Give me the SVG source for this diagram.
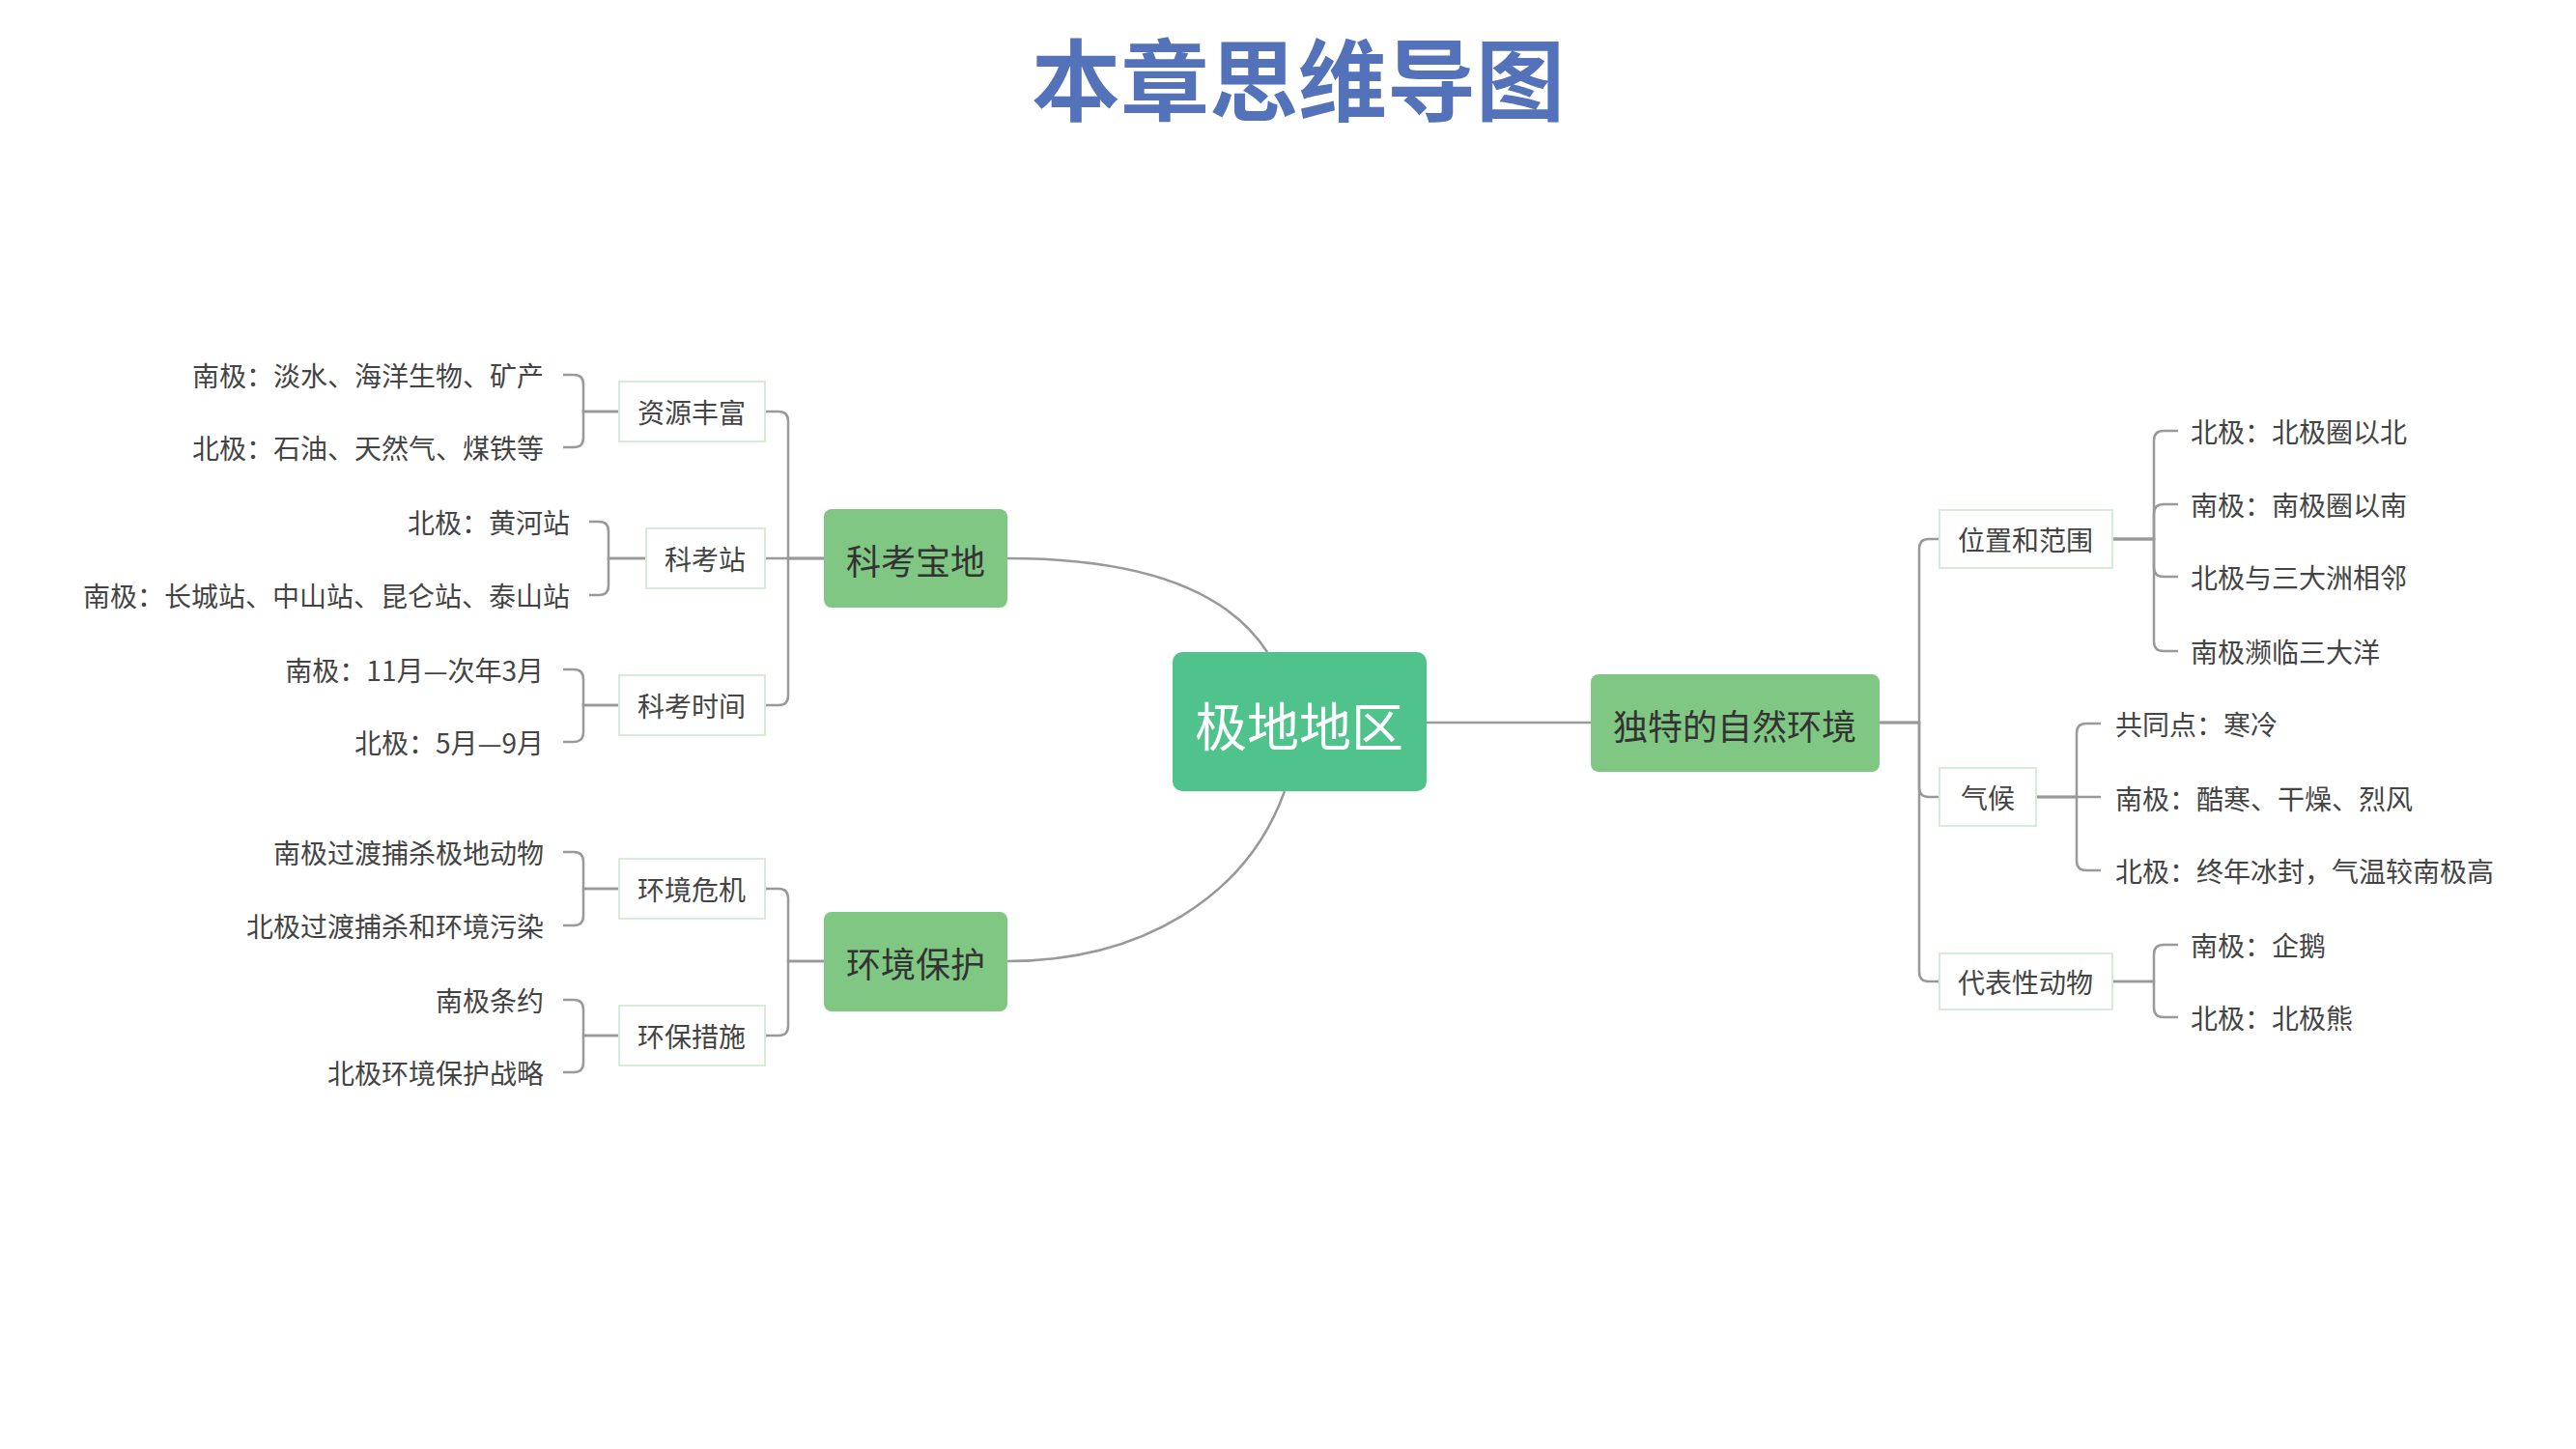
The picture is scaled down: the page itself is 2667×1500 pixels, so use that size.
<svg xmlns="http://www.w3.org/2000/svg" width="2667" height="1500" viewBox="0 0 2667 1500">
<style>
text{font-family:"Noto Sans CJK SC","Noto Sans",sans-serif;dominant-baseline:central}
.t{font-size:92px;font-weight:bold;fill:#5472b9;text-anchor:middle}
.c{fill:#50c28c}
.m{fill:#80c784}
.sub{fill:#fff;stroke:#d6ecd6;stroke-width:2}
.ct{font-size:54px;fill:#fff;text-anchor:middle}
.mt{font-size:36px;fill:#333;text-anchor:middle}
.st{font-size:28px;fill:#444;text-anchor:middle}
.l{font-size:28px;fill:#444}
.r{text-anchor:end}
#connectors path{fill:none;stroke:#999;stroke-width:2.5}
</style>
<text class="t" x="1344" y="77">本章思维导图</text>
<g id="connectors">
<path d="M1043,578 C1180,578 1270,610 1312,675"/>
<path d="M1043,995 C1180,995 1290,930 1330,819"/>
<path d="M1477,748 H1647"/>
<path d="M853,578 H816 V436 Q816,426 806,426 H792"/>
<path d="M853,578 H792"/>
<path d="M853,578 H816 V720 Q816,730 806,730 H792"/>
<path d="M853,995 H816 V930 Q816,920 806,920 H792"/>
<path d="M853,995 H816 V1062 Q816,1072 806,1072 H792"/>
<path d="M641,426 H604 V398 Q604,388 594,388 H583"/>
<path d="M641,426 H604 V453 Q604,463 594,463 H583"/>
<path d="M669,578 H630 V550 Q630,540 620,540 H610"/>
<path d="M669,578 H630 V606 Q630,616 620,616 H610"/>
<path d="M641,730 H604 V703 Q604,693 594,693 H583"/>
<path d="M641,730 H604 V758 Q604,768 594,768 H583"/>
<path d="M641,920 H604 V892 Q604,882 594,882 H583"/>
<path d="M641,920 H604 V948 Q604,958 594,958 H583"/>
<path d="M641,1072 H604 V1045 Q604,1035 594,1035 H583"/>
<path d="M641,1072 H604 V1100 Q604,1110 594,1110 H583"/>
<path d="M1946,748 H1987 V568 Q1987,558 1997,558 H2008"/>
<path d="M1946,748 H1987 V815 Q1987,825 1997,825 H2008"/>
<path d="M1946,748 H1987 V1006 Q1987,1016 1997,1016 H2008"/>
<path d="M2187,558 H2230 V456 Q2230,446 2240,446 H2255"/>
<path d="M2187,558 H2230 V532 Q2230,522 2240,522 H2255"/>
<path d="M2187,558 H2230 V587 Q2230,597 2240,597 H2255"/>
<path d="M2187,558 H2230 V664 Q2230,674 2240,674 H2255"/>
<path d="M2108,825 H2150 V759 Q2150,749 2160,749 H2175"/>
<path d="M2108,825 H2175"/>
<path d="M2108,825 H2150 V891 Q2150,901 2160,901 H2175"/>
<path d="M2187,1016 H2230 V988 Q2230,978 2240,978 H2255"/>
<path d="M2187,1016 H2230 V1043 Q2230,1053 2240,1053 H2255"/>
</g>
<g id="center"><rect class="c" x="1214" y="675" width="263" height="144" rx="10"/><text class="ct" x="1345" y="749">极地地区</text></g>
<g id="kkbd"><rect class="m" x="853" y="527" width="190" height="102" rx="8"/><text class="mt" x="948" y="579">科考宝地</text></g>
<g id="hjbh"><rect class="m" x="853" y="944" width="190" height="103" rx="8"/><text class="mt" x="948" y="996">环境保护</text></g>
<g id="dtzr"><rect class="m" x="1647" y="698" width="299" height="101" rx="8"/><text class="mt" x="1796" y="750">独特的自然环境</text></g>
<g id="zyff"><rect class="sub" x="641" y="395" width="151" height="62"/><text class="st" x="716" y="426">资源丰富</text></g>
<g id="kkz"><rect class="sub" x="669" y="547" width="123" height="62"/><text class="st" x="730" y="578">科考站</text></g>
<g id="kksj"><rect class="sub" x="641" y="699" width="151" height="62"/><text class="st" x="716" y="730">科考时间</text></g>
<g id="hjwj"><rect class="sub" x="641" y="889" width="151" height="62"/><text class="st" x="716" y="920">环境危机</text></g>
<g id="hbcs"><rect class="sub" x="641" y="1041" width="151" height="62"/><text class="st" x="716" y="1072">环保措施</text></g>
<g id="wzfw"><rect class="sub" x="2008" y="528" width="179" height="60"/><text class="st" x="2097" y="558">位置和范围</text></g>
<g id="qh"><rect class="sub" x="2008" y="795" width="100" height="60"/><text class="st" x="2058" y="825">气候</text></g>
<g id="dbxdw"><rect class="sub" x="2008" y="987" width="179" height="58"/><text class="st" x="2097" y="1016">代表性动物</text></g>
<g id="leaves">
<text class="l r" x="563" y="388">南极：淡水、海洋生物、矿产</text>
<text class="l r" x="563" y="463">北极：石油、天然气、煤铁等</text>
<text class="l r" x="590" y="540">北极：黄河站</text>
<text class="l r" x="590" y="616">南极：长城站、中山站、昆仑站、泰山站</text>
<text class="l r" x="563" y="693">南极：11月—次年3月</text>
<text class="l r" x="563" y="768">北极：5月—9月</text>
<text class="l r" x="563" y="882">南极过渡捕杀极地动物</text>
<text class="l r" x="563" y="958">北极过渡捕杀和环境污染</text>
<text class="l r" x="563" y="1035">南极条约</text>
<text class="l r" x="563" y="1110">北极环境保护战略</text>
<text class="l" x="2268" y="446">北极：北极圈以北</text>
<text class="l" x="2268" y="522">南极：南极圈以南</text>
<text class="l" x="2268" y="597">北极与三大洲相邻</text>
<text class="l" x="2268" y="674">南极濒临三大洋</text>
<text class="l" x="2190" y="749">共同点：寒冷</text>
<text class="l" x="2190" y="826">南极：酷寒、干燥、烈风</text>
<text class="l" x="2190" y="901">北极：终年冰封，气温较南极高</text>
<text class="l" x="2268" y="978">南极：企鹅</text>
<text class="l" x="2268" y="1053">北极：北极熊</text>
</g>
</svg>
